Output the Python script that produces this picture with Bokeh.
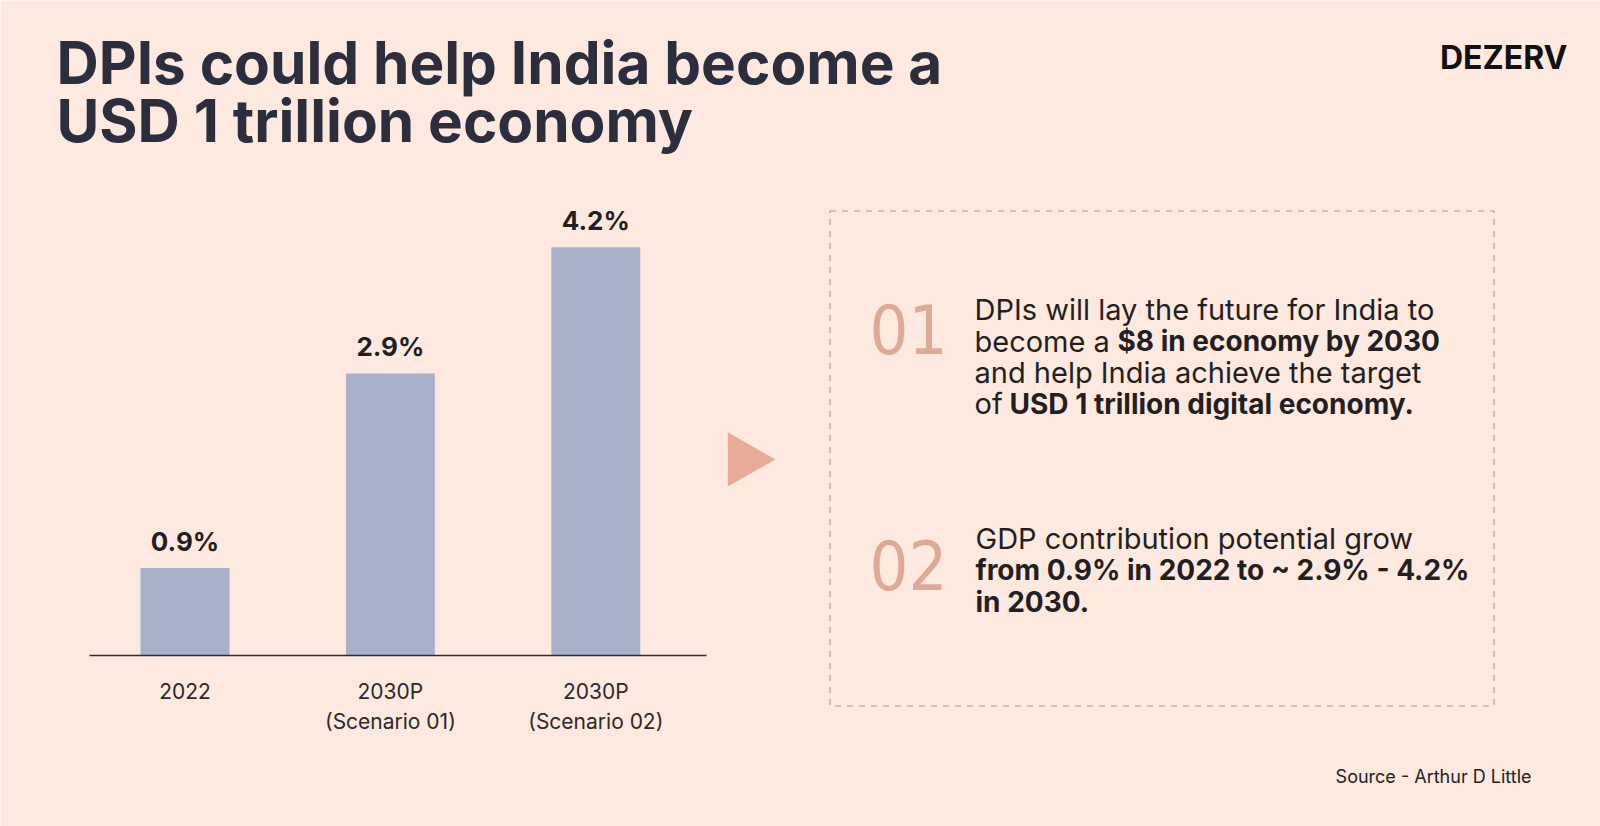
from bokeh.plotting import figure
from bokeh.models import Range1d, FixedTicker, LinearAxis, ColumnDataSource, Label
from bokeh.core.properties import value
from bokeh.embed import file_html
from bokeh.resources import INLINE

# ---------------- data ----------------
categories = ["2022", "2030P\n(Scenario 01)", "2030P\n(Scenario 02)"]
gdp_share = [0.9, 2.9, 4.2]
value_labels = ["0.9%", "2.9%", "4.2%"]

title_lines = ["DPIs could help India become a", "USD 1 trillion economy"]
brand = "DEZERV"
source_text = "Source - Arthur D Little"

# ---------------- style ----------------
BG = "#fde9e0"
BAR = "#a9b0ca"
DARK = "#231f20"
TITLE_C = "#2c2e3d"
ACCENT = "#e8ab98"
NUM_C = "#dcab96"
BOX_C = "#d6ad9c"
FONT = "Inter"
NARROW = "'Liberation Sans Narrow', 'DejaVu Sans Condensed', 'Roboto Condensed', sans-serif"

W, H = 1600, 826

# one canvas in page pixels; the bars get their own value / category scales
p = figure(width=W, height=H, x_range=Range1d(0, W), y_range=Range1d(H, 0),
           x_axis_type=None, y_axis_type=None, toolbar_location=None,
           output_backend="svg", min_border=0, background_fill_color=BG,
           border_fill_color=BG, outline_line_color=None)
p.grid.visible = False
p.extra_x_ranges = {"cat": Range1d(-0.8982, 6.8914)}
p.extra_y_ranges = {"val": Range1d(-1.7593, 6.7387)}


def lab(x, y, text, size, bold=False, color=DARK, align="left", font=FONT):
    p.add_layout(Label(x=x, y=y, text=text, text_font=font, text_font_size=f"{size}px",
                       text_font_style="bold" if bold else "normal", text_color=color,
                       text_align=align, text_baseline="middle"))


# ---------------- title ----------------
lab(56, 61.5, title_lines[0], 58.5, bold=True, color=TITLE_C)
lab(56, 120, title_lines[1], 58.5, bold=True, color=TITLE_C)
lab(1567, 57, brand, 32, bold=True, color="#111111", align="right")

# ---------------- bar chart ----------------
idx = list(range(len(categories)))
src = ColumnDataSource(dict(x=idx, v=gdp_share, lbl=value_labels))
p.vbar(x="x", top="v", width=0.433, source=src, fill_color=BAR, line_color=None,
       x_range_name="cat", y_range_name="val")
p.text(x="x", y="v", text="lbl", source=src, y_offset=-27, text_align="center",
       text_baseline="middle", text_font=value(FONT), text_font_size="26px",
       text_font_style="bold", text_color=DARK, x_range_name="cat", y_range_name="val")

xa = LinearAxis(x_range_name="cat", y_range_name="val", fixed_location=0,
                bounds=(-0.465, 2.539), ticker=FixedTicker(ticks=idx),
                major_label_overrides={i: c for i, c in zip(idx, categories)})
xa.axis_line_color = "#2e2e2e"
xa.axis_line_width = 1.6
xa.major_tick_line_color = None
xa.minor_tick_line_color = None
xa.major_label_standoff = 18
xa.major_label_text_font = FONT
xa.major_label_text_font_size = "21px"
xa.major_label_text_color = "#2a2a2a"
p.add_layout(xa, "below")

# ---------------- right panel ----------------
p.patch(x=[727.3, 775, 727.3], y=[431.7, 459, 486], fill_color=ACCENT, line_color=None)
p.quad(left=[829.5], right=[1493.5], top=[210.5], bottom=[705.5], fill_color=None,
       line_color=BOX_C, line_width=1.5, line_dash="6 6")

lab(869, 328.7, "01", 68, color=NUM_C, font=NARROW)
lab(869, 564, "02", 68, color=NUM_C, font=NARROW)

TS = 29    # regular runs
TB = 28    # bold runs
lab(974, 309.2, "DPIs will lay the future for India to", TS)
lab(974, 340.5, "become a", TS)
lab(1117, 340.5, "$8 in economy by 2030", TB, bold=True)
lab(974, 371.8, "and help India achieve the target", TS)
lab(974, 403.1, "of", TS)
lab(1009, 403.1, "USD 1 trillion digital economy.", TB, bold=True)

lab(975, 537.5, "GDP contribution potential grow", TS)
lab(975, 569, "from 0.9% in 2022 to ~ 2.9% - 4.2%", TB, bold=True)
lab(975, 601, "in 2030.", TB, bold=True)

# ---------------- footer ----------------
lab(1531, 776, source_text, 18, align="right", color="#222222")

open("out.html", "w").write(file_html(p, INLINE))
